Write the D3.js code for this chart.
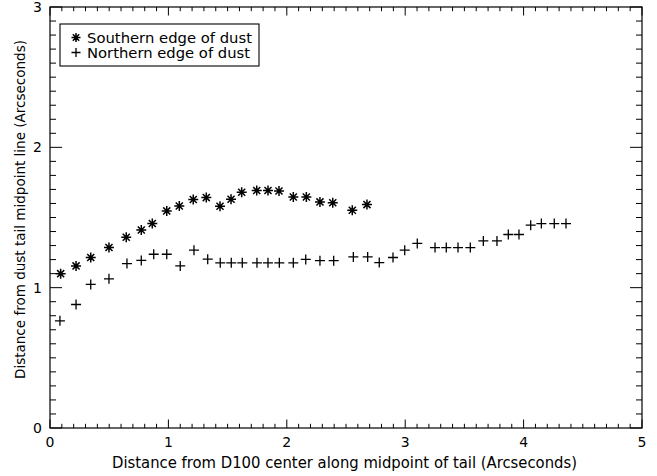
<!DOCTYPE html>
<html>
<head>
<meta charset="utf-8">
<script src="https://d3js.org/d3.v7.min.js"></script>
<style>
  html, body { margin: 0; padding: 0; background: #fff; }
  svg { display: block; }
  text { font-family: "DejaVu Sans", "Liberation Sans", sans-serif; fill: #000; }
</style>
</head>
<body>
<svg id="chart" width="657" height="476"></svg>
<script>
// Southern edge of the dust (asterisks)
const southX = [0.09, 0.22, 0.344, 0.498, 0.644, 0.771, 0.864, 0.986, 1.092, 1.21, 1.32, 1.436,
                1.529, 1.619, 1.746, 1.841, 1.934, 2.055, 2.165, 2.28, 2.388, 2.553, 2.677];
const southY = [1.10, 1.155, 1.215, 1.286, 1.359, 1.411, 1.457, 1.547, 1.582, 1.628, 1.642, 1.58,
                1.63, 1.68, 1.692, 1.692, 1.689, 1.646, 1.646, 1.611, 1.605, 1.552, 1.592];

// Northern edge of the dust (plus signs)
const northX = [0.084, 0.22, 0.344, 0.498, 0.65, 0.771, 0.876, 0.986, 1.10, 1.216, 1.332, 1.438,
                1.531, 1.624, 1.748, 1.841, 1.937, 2.055, 2.16, 2.28, 2.396, 2.562, 2.683, 2.781,
                2.897, 2.996, 3.102, 3.252, 3.347, 3.446, 3.55, 3.66, 3.775, 3.871, 3.961, 4.06,
                4.15, 4.259, 4.358];
const northY = [0.764, 0.88, 1.023, 1.063, 1.172, 1.194, 1.238, 1.238, 1.155, 1.267, 1.203, 1.177,
                1.177, 1.177, 1.177, 1.177, 1.177, 1.177, 1.201, 1.192, 1.192, 1.219, 1.219, 1.179,
                1.215, 1.267, 1.315, 1.286, 1.286, 1.286, 1.286, 1.333, 1.333, 1.379, 1.379, 1.445,
                1.457, 1.457, 1.457];

const xTicks = [0, 1, 2, 3, 4, 5];
const yTicks = [0, 1, 2, 3];
const legendLabels = ["Southern edge of dust", "Northern edge of dust"];
const xTitle = "Distance from D100 center along midpoint of tail (Arcseconds)";
const yTitle = "Distance from dust tail midpoint line (Arcseconds)";

const svg = d3.select("#chart");
const pLeft = 50, pRight = 642, pTop = 7, pBottom = 428;

const x = d3.scaleLinear().domain([0, 5]).range([pLeft, pRight]);
const y = d3.scaleLinear().domain([0, 3]).range([pBottom, pTop]);

const ink = "#000";
const g = svg.append("g");

// frame
g.append("rect")
  .attr("x", pLeft).attr("y", pTop)
  .attr("width", pRight - pLeft).attr("height", pBottom - pTop)
  .attr("fill", "none").attr("stroke", ink).attr("stroke-width", 1.2);

// ticks: 10 minor intervals per major, mirrored on opposite sides
const xMinor = d3.range(0, 50.5).map(i => i / 10);
const yMinor = d3.range(0, 30.5).map(i => i / 10);
const isMajor = v => Math.abs(v - Math.round(v)) < 1e-6;

xMinor.forEach(v => {
  const len = isMajor(v) ? 8.5 : 4.2;
  g.append("line").attr("x1", x(v)).attr("x2", x(v))
    .attr("y1", pBottom).attr("y2", pBottom - len).attr("stroke", ink).attr("stroke-width", 1);
  g.append("line").attr("x1", x(v)).attr("x2", x(v))
    .attr("y1", pTop).attr("y2", pTop + len).attr("stroke", ink).attr("stroke-width", 1);
});
yMinor.forEach(v => {
  const len = isMajor(v) ? 12 : 6;
  g.append("line").attr("y1", y(v)).attr("y2", y(v))
    .attr("x1", pLeft).attr("x2", pLeft + len).attr("stroke", ink).attr("stroke-width", 1);
  g.append("line").attr("y1", y(v)).attr("y2", y(v))
    .attr("x1", pRight).attr("x2", pRight - len).attr("stroke", ink).attr("stroke-width", 1);
});

// tick labels
g.selectAll(".xl").data(xTicks).enter().append("text")
  .attr("x", d => x(d)).attr("y", pBottom + 19)
  .attr("text-anchor", "middle").attr("font-size", 14)
  .text(d => d);
g.selectAll(".yl").data(yTicks).enter().append("text")
  .attr("x", pLeft - 8).attr("y", d => y(d) + 5)
  .attr("text-anchor", "end").attr("font-size", 14)
  .text(d => d);

// axis titles, stretched to the span of the label lines
g.append("text")
  .attr("x", 112).attr("y", 468)
  .attr("font-size", 15)
  .attr("textLength", 465).attr("lengthAdjust", "spacingAndGlyphs")
  .text(xTitle);
g.append("text")
  .attr("transform", "translate(25,379) rotate(-90)")
  .attr("font-size", 14)
  .attr("textLength", 339).attr("lengthAdjust", "spacingAndGlyphs")
  .text(yTitle);

// marker shapes
function asterisk(sel, cx, cy, r) {
  const a = r * Math.SQRT1_2;
  const p = `M${cx - r},${cy}L${cx + r},${cy}M${cx},${cy - r}L${cx},${cy + r}` +
            `M${cx - a},${cy - a}L${cx + a},${cy + a}M${cx - a},${cy + a}L${cx + a},${cy - a}`;
  sel.append("path").attr("d", p).attr("stroke", ink).attr("stroke-width", 1.5).attr("fill", "none");
}
function plus(sel, cx, cy, r) {
  const p = `M${cx - r},${cy}L${cx + r},${cy}M${cx},${cy - r}L${cx},${cy + r}`;
  sel.append("path").attr("d", p).attr("stroke", ink).attr("stroke-width", 1.3).attr("fill", "none");
}

const marks = svg.append("g");
southX.forEach((v, i) => asterisk(marks, x(v), y(southY[i]), 5));
northX.forEach((v, i) => plus(marks, x(v), y(northY[i]), 5));

// legend
const lg = svg.append("g");
lg.append("rect").attr("x", 60).attr("y", 24).attr("width", 199).attr("height", 42)
  .attr("fill", "#fff").attr("stroke", ink).attr("stroke-width", 1.1);
asterisk(lg, 76, 37.5, 4.5);
plus(lg, 76, 52.5, 4.5);
lg.append("text").attr("x", 87).attr("y", 42.5).attr("font-size", 14)
  .attr("textLength", 165).attr("lengthAdjust", "spacingAndGlyphs").text(legendLabels[0]);
lg.append("text").attr("x", 87).attr("y", 57.5).attr("font-size", 14)
  .attr("textLength", 163).attr("lengthAdjust", "spacingAndGlyphs").text(legendLabels[1]);
</script>
</body>
</html>
